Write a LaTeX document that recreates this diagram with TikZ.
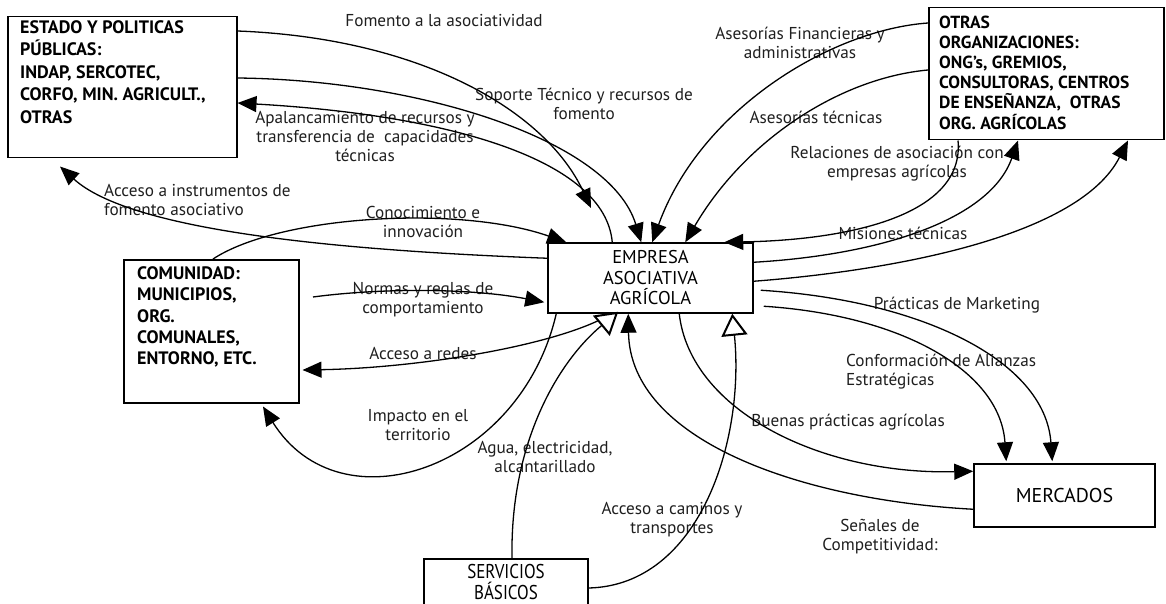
\documentclass[tikz,border=0pt]{standalone}
\usepackage{fontspec}
\setmainfont{PT Sans}
\newfontfamily\narrowfont{PT Sans}[FakeStretch=0.85]
\usetikzlibrary{arrows.meta}
\begin{document}
\begin{tikzpicture}[x=1pt,y=-1pt,
  box/.style={draw=black, line width=1.5pt, fill=white, inner sep=0pt},
  btext/.style={font=\fontsize{18}{22.5}\selectfont\bfseries, align=left, inner sep=0pt, text=black},
  lbl/.style={font=\fontsize{17.2}{19}\selectfont, align=center, inner sep=0pt, text=black!88},
  conn/.style={line width=1.3pt, draw=black},
  arr/.style={conn, -{Triangle[length=19pt,width=16pt]}},
  oarr/.style={conn, -{Triangle[length=22pt,width=26pt,line width=2pt,fill=white]}}
]
\useasboundingbox (0,0) rectangle (1166,604);
\fill[white] (0,0) rectangle (1166,604);

% boxes
\node[box, anchor=north west, minimum width=229pt, minimum height=141pt] (estado) at (7,16) {};
\node[btext, anchor=west] (estadot) at (20,72) {ESTADO Y POLITICAS\\PÚBLICAS:\\INDAP, SERCOTEC,\\CORFO, MIN. AGRICULT.,\\OTRAS};

\node[box, anchor=north west, minimum width=235pt, minimum height=132pt] (otras) at (928,7) {};
\node[btext, font=\fontsize{17.5}{20.2}\selectfont\bfseries, anchor=west] (otrast) at (939,72.5) {OTRAS\\ORGANIZACIONES:\\ONG’s, GREMIOS,\\CONSULTORAS, CENTROS\\DE ENSEÑANZA, \ OTRAS\\ORG. AGRÍCOLAS};

\node[box, anchor=north west, minimum width=175pt, minimum height=143pt] (comunidad) at (123,259) {};
\node[btext, font=\fontsize{18}{21.25}\selectfont\bfseries, anchor=west] (comunidadt) at (137,317) {COMUNIDAD:\\MUNICIPIOS,\\ORG.\\COMUNALES,\\ENTORNO, ETC.};

\node[box, minimum width=205pt, minimum height=70pt, font=\fontsize{18.5}{20.5}\selectfont, align=center] (empresa) at (650.5,278) {EMPRESA\\ASOCIATIVA\\AGRÍCOLA};

\node[box, minimum width=181pt, minimum height=63pt, font=\fontsize{20}{22}\selectfont] (mercados) at (1064.5,495.5) {MERCADOS};

\node[box, line width=2pt, anchor=north west, minimum width=164pt, minimum height=46pt, font=\narrowfont\fontsize{20}{20.5}\selectfont, align=center] (servicios) at (423,558) {SERVICIOS\\BÁSICOS};

% labels
\node[lbl] (l1) at (444,21) {Fomento a la asociatividad};
\node[lbl] (l2) at (584,103.5) {Soporte Técnico y recursos de\\fomento};
\node[lbl] (l3) at (365,136) {Apalancamiento de recursos y\\transferencia de \ capacidades\\técnicas};
\node[lbl, align=left, anchor=west] (l4) at (104,199.5) {Acceso a instrumentos de\\fomento asociativo};
\node[lbl] (l5) at (423,222) {Conocimiento e\\innovación};
\node[lbl] (l6) at (423,300) {Normas y reglas de\\comportamiento};
\node[lbl] (l7) at (423,353) {Acceso a redes};
\node[lbl] (l8) at (418,425) {Impacto en el\\territorio};
\node[lbl] (l9) at (545,456.5) {Agua, electricidad,\\alcantarillado};
\node[lbl] (l10) at (672,520) {Acceso a caminos y\\transportes};
\node[lbl] (l11) at (880,536.5) {Señales de\\Competitividad:};
\node[lbl] (l12) at (848,422) {Buenas prácticas agrícolas};
\node[lbl, align=left, anchor=west] (l13) at (846,372) {Conformación de Alianzas\\Estratégicas};
\node[lbl] (l14) at (957,305) {Prácticas de Marketing};
\node[lbl] (l15) at (903,233) {Misiones técnicas};
\node[lbl] (l16) at (897,163.5) {Relaciones de asociación con\\empresas agrícolas};
\node[lbl] (l17) at (816,117) {Asesorías técnicas};
\node[lbl] (l18) at (800,43) {Asesorías Financieras y\\administrativas};

% free ends
\coordinate (fomentoend) at (591,208);
\coordinate (normstart) at (313,297);

% connectors: ESTADO
\draw[arr] ([yshift=-15pt]estado.north east) .. controls (420,38) and (545,110) .. (fomentoend);
\draw[arr] ([yshift=-62pt]estado.north east) .. controls (420,80) and (610,140) .. ([xshift=94pt]empresa.north west);
\draw[arr] ([xshift=65pt]empresa.north west) .. controls (605,160) and (450,115) .. ([yshift=-87pt]estado.north east);
\draw[arr] ([yshift=-16pt]empresa.north west) .. controls (330,250) and (130,230) .. ([xshift=53pt,yshift=-8pt]estado.south west);

% COMUNIDAD
\draw[arr] ([xshift=90pt]comunidad.north west) .. controls (280,215) and (460,205) .. ([xshift=19pt]empresa.north west);
\draw[arr] (normstart) .. controls (380,288) and (470,288) .. ([xshift=-3pt,yshift=-60pt]empresa.north west);
\draw[arr] ([xshift=64pt]empresa.south west) .. controls (560,345) and (420,368) .. ([xshift=3pt,yshift=-111pt]comunidad.north east);
\draw[arr] ([xshift=9pt]empresa.south west) .. controls (520,470) and (340,530) .. ([xshift=140pt,yshift=-3pt]comunidad.south west);

% SERVICIOS
\draw[oarr] ([xshift=89pt]servicios.north west) .. controls (510,440) and (560,360) .. ([xshift=71pt,yshift=2pt]empresa.south west);
\draw[oarr] ([yshift=-30pt]servicios.north east) .. controls (700,585) and (745,440) .. ([xshift=185pt]empresa.south west);

% MERCADOS
\draw[arr] ([yshift=-46pt]mercados.north west) .. controls (800,500) and (630,440) .. ([xshift=81pt]empresa.south west);
\draw[arr] ([xshift=132pt]empresa.south west) .. controls (690,410) and (820,475) .. ([yshift=-8pt]mercados.north west);
\draw[arr] ([xshift=7pt,yshift=-48pt]empresa.north east) .. controls (920,300) and (1045,360) .. ([xshift=79pt,yshift=2pt]mercados.north west);
\draw[arr] ([xshift=10pt,yshift=-64pt]empresa.north east) .. controls (900,315) and (1000,370) .. ([xshift=33pt,yshift=2pt]mercados.north west);

% OTRAS
\draw[arr] ([xshift=30pt]otras.south west) .. controls (965,215) and (850,240) .. ([xshift=177pt]empresa.north west);
\draw[arr] ([yshift=-20pt]empresa.north east) .. controls (880,255) and (990,220) .. ([xshift=90pt]otras.south west);
\draw[arr] ([yshift=-39pt]empresa.north east) .. controls (900,270) and (1080,235) .. ([xshift=200pt]otras.south west);
\draw[arr] ([yshift=-16pt]otras.north west) .. controls (830,30) and (700,110) .. ([xshift=105pt]empresa.north west);
\draw[arr] ([yshift=-63pt]otras.north west) .. controls (840,78) and (745,140) .. ([xshift=138pt]empresa.north west);
\end{tikzpicture}
\end{document}
